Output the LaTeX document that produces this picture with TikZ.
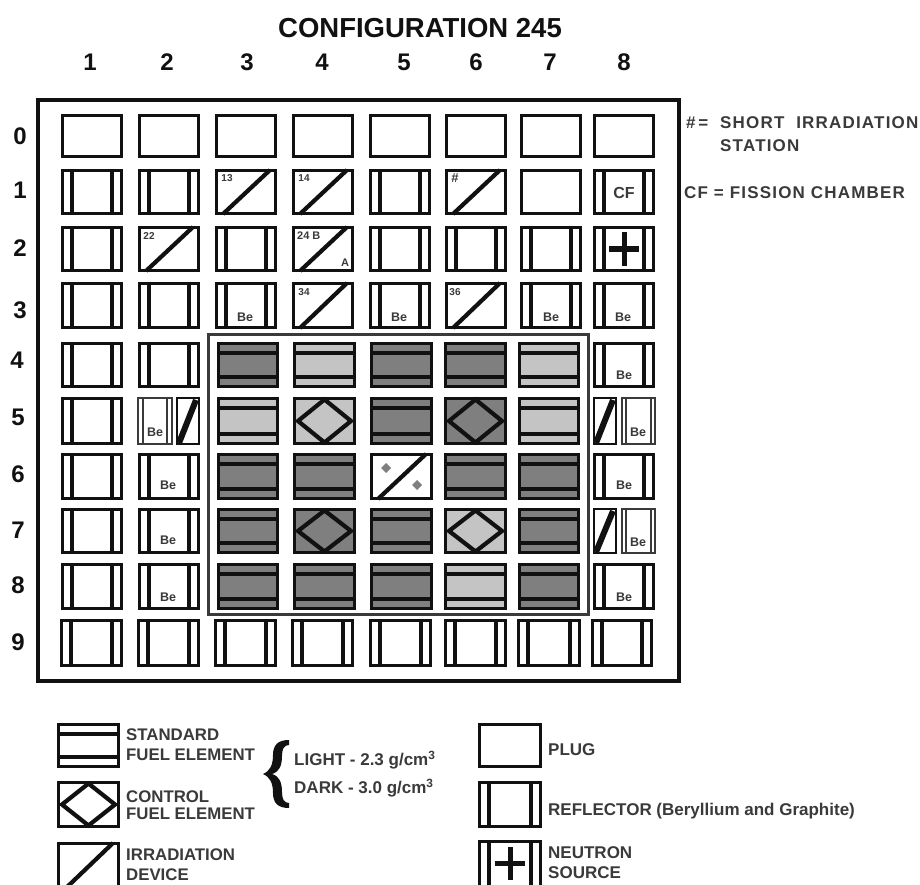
\documentclass[tikz,border=0pt]{standalone}
\usepackage{fontspec}
\setmainfont{Liberation Sans}
\newfontfamily\spaced[LetterSpace=7]{Liberation Sans}
\definecolor{fueldark}{HTML}{7F7F7F}
\definecolor{fuellight}{HTML}{C4C4C4}
\definecolor{ink}{HTML}{111111}
\definecolor{softink}{HTML}{3A3A3A}
\tikzset{
  cellbox/.style={draw=ink,line width=3.2pt,inner sep=0pt,outer sep=0pt,fill=white},
  rule/.style={draw=ink,line width=3.2pt},
  thinrule/.style={draw=softink,line width=1.6pt},
  slash/.style={draw=ink,line width=4.2pt},
  heavyslash/.style={draw=ink,line width=6pt},
  frame/.style={draw=ink,line width=3.4pt},
  innerframe/.style={draw=softink,line width=3pt},
  head/.style={font=\bfseries\fontsize{24}{24}\selectfont,text=ink,inner sep=0pt},
  spacednote/.style={font=\spaced\bfseries\fontsize{17}{17}\selectfont,text=softink,inner sep=0pt,anchor=west},
  tiny/.style={font=\bfseries\fontsize{10}{10}\selectfont,text=softink,inner sep=0pt},
  belabel/.style={font=\bfseries\fontsize{12.5}{12.5}\selectfont,text=softink,inner sep=0pt},
  legendtext/.style={font=\bfseries\fontsize{16.8}{16.8}\selectfont,text=softink,inner sep=0pt,anchor=west},
  legendwide/.style={font=\bfseries\fontsize{17}{17}\selectfont,text=softink,inner sep=0pt,anchor=west},
}
% #1 name, #2 left, #3 top, #4 right, #5 bottom (outer edges), #6 fill
\newcommand{\cbase}[6]{\node[cellbox,fill=#6,minimum width={#4-#2-3.2},minimum height={#5-#3-3.2}] (#1) at ({(#2+#4)/2},{(#3+#5)/2}) {};}
\newcommand{\cplug}[5]{\cbase{#1}{#2}{#3}{#4}{#5}{white}}
\newcommand{\crefl}[5]{\cbase{#1}{#2}{#3}{#4}{#5}{white}
  \draw[rule] ({#2+11},{#3+1}) -- ({#2+11},{#5-1});
  \draw[rule] ({#4-11},{#3+1}) -- ({#4-11},{#5-1});}
\newcommand{\cirr}[5]{\cbase{#1}{#2}{#3}{#4}{#5}{white}
  \draw[slash] ({#2+8},{#5-1}) -- ({#4-7},{#3+1});}
\newcommand{\cfuel}[6]{\cbase{#1}{#2}{#3}{#4}{#5}{#6}
  \draw[rule] ({#2+1},{#3+11}) -- ({#4-1},{#3+11});
  \draw[rule] ({#2+1},{#5-11}) -- ({#4-1},{#5-11});}
\newcommand{\cctrl}[6]{\cbase{#1}{#2}{#3}{#4}{#5}{#6}
  \draw[slash,line join=miter] ({#2+5},{(#3+#5)/2}) -- ({(#2+#4)/2},{#3+2.5}) -- ({#4-5},{(#3+#5)/2}) -- ({(#2+#4)/2},{#5-2.5}) -- cycle;}
% split reflector + irradiation halves
\newcommand{\crsplit}[7]{\node[draw=softink,line width=2.4pt,inner sep=0pt,minimum width={#4-#2-2},minimum height={#5-#3-2}] (#1) at ({(#2+#4)/2},{(#3+#5)/2}) {};
  \draw[thinrule] (#6,{#3+1}) -- (#6,{#5-1});
  \draw[thinrule] (#7,{#3+1}) -- (#7,{#5-1});}
\newcommand{\cisplit}[5]{\node[draw=ink,line width=2.6pt,inner sep=0pt,minimum width={#4-#2-2},minimum height={#5-#3-2}] (#1) at ({(#2+#4)/2},{(#3+#5)/2}) {};
  \draw[heavyslash] ({#2+3},{#5-2}) -- ({#4-4},{#3+3});}
\begin{document}
\begin{tikzpicture}[x=1pt,y=-1pt]
\useasboundingbox (0,0) rectangle (920,885);
\fill[white] (0,0) rectangle (920,885);
% title and indices
\node[font=\bfseries\fontsize{27.5}{28}\selectfont,text=ink,inner sep=0pt] (title) at (420,28) {CONFIGURATION 245};
\node[head] (h1) at (90,62) {1};
\node[head] (h2) at (167,62) {2};
\node[head] (h3) at (247,62) {3};
\node[head] (h4) at (322,62) {4};
\node[head] (h5) at (404,62) {5};
\node[head] (h6) at (476,62) {6};
\node[head] (h7) at (550,62) {7};
\node[head] (h8) at (624,62) {8};
\node[head] (v0) at (20,136) {0};
\node[head] (v1) at (20,190) {1};
\node[head] (v2) at (20,248) {2};
\node[head] (v3) at (20,310) {3};
\node[head] (v4) at (17,360) {4};
\node[head] (v5) at (18,417) {5};
\node[head] (v6) at (18,474) {6};
\node[head] (v7) at (18,530) {7};
\node[head] (v8) at (18,585) {8};
\node[head] (v9) at (18,642) {9};
% frames
\draw[frame] (38,100) rectangle (679,681);
\draw[innerframe] (208,334) rectangle (588,614);
% row 0
\cplug{a01}{61}{114}{123}{158}
\cplug{a02}{138}{114}{200}{158}
\cplug{a03}{215}{114}{277}{158}
\cplug{a04}{292}{114}{354}{158}
\cplug{a05}{369}{114}{431}{158}
\cplug{a06}{445}{114}{507}{158}
\cplug{a07}{520}{114}{582}{158}
\cplug{a08}{593}{114}{655}{158}
% row 1
\crefl{a11}{61}{169}{123}{215}
\crefl{a12}{138}{169}{200}{215}
\cirr{a13}{215}{169}{277}{215}
\cirr{a14}{292}{169}{354}{215}
\crefl{a15}{369}{169}{431}{215}
\cirr{a16}{445}{169}{507}{215}
\cplug{a17}{520}{169}{582}{215}
\crefl{a18}{593}{169}{655}{215}
% row 2
\crefl{a21}{61}{226}{123}{272}
\cirr{a22}{138}{226}{200}{272}
\crefl{a23}{215}{226}{277}{272}
\cirr{a24}{292}{226}{354}{272}
\crefl{a25}{369}{226}{431}{272}
\crefl{a26}{445}{226}{507}{272}
\crefl{a27}{520}{226}{582}{272}
\crefl{a28}{593}{226}{655}{272}
% row 3
\crefl{a31}{61}{282}{123}{329}
\crefl{a32}{138}{282}{200}{329}
\crefl{a33}{215}{282}{277}{329}
\cirr{a34}{292}{282}{354}{329}
\crefl{a35}{369}{282}{431}{329}
\cirr{a36}{445}{282}{507}{329}
\crefl{a37}{520}{282}{582}{329}
\crefl{a38}{593}{282}{655}{329}
% row 4
\crefl{a41}{61}{342}{123}{388}
\crefl{a42}{138}{342}{200}{388}
\cfuel{a43}{217}{342}{279}{388}{fueldark}
\cfuel{a44}{293}{342}{356}{388}{fuellight}
\cfuel{a45}{370}{342}{433}{388}{fueldark}
\cfuel{a46}{444}{342}{507}{388}{fueldark}
\cfuel{a47}{518}{342}{580}{388}{fuellight}
\crefl{a48}{593}{342}{655}{388}
% row 5
\crefl{a51}{61}{397}{123}{445}
\crsplit{a52}{137}{397}{173}{445}{143}{167}
\cisplit{a52i}{176}{397}{200}{445}
\cfuel{a53}{217}{397}{279}{445}{fuellight}
\cctrl{a54}{293}{397}{356}{445}{fuellight}
\cfuel{a55}{370}{397}{433}{445}{fueldark}
\cctrl{a56}{444}{397}{507}{445}{fueldark}
\cfuel{a57}{518}{397}{580}{445}{fuellight}
\cisplit{a58i}{593}{397}{617}{445}
\crsplit{a58}{621}{397}{656}{445}{626}{651}
% row 6
\crefl{a61}{61}{453}{123}{500}
\crefl{a62}{138}{453}{200}{500}
\cfuel{a63}{217}{453}{279}{500}{fueldark}
\cfuel{a64}{293}{453}{356}{500}{fueldark}
\cirr{a65}{370}{453}{433}{500}
\cfuel{a66}{444}{453}{507}{500}{fueldark}
\cfuel{a67}{518}{453}{580}{500}{fueldark}
\crefl{a68}{593}{453}{655}{500}
% row 7
\crefl{a71}{61}{508}{123}{554}
\crefl{a72}{138}{508}{200}{554}
\cfuel{a73}{217}{508}{279}{554}{fueldark}
\cctrl{a74}{293}{508}{356}{554}{fueldark}
\cfuel{a75}{370}{508}{433}{554}{fueldark}
\cctrl{a76}{444}{508}{507}{554}{fuellight}
\cfuel{a77}{518}{508}{580}{554}{fueldark}
\cisplit{a78i}{593}{508}{617}{554}
\crsplit{a78}{621}{508}{656}{554}{626}{651}
% row 8
\crefl{a81}{61}{563}{123}{610}
\crefl{a82}{138}{563}{200}{610}
\cfuel{a83}{217}{563}{279}{610}{fueldark}
\cfuel{a84}{293}{563}{356}{610}{fueldark}
\cfuel{a85}{370}{563}{433}{610}{fueldark}
\cfuel{a86}{444}{563}{507}{610}{fuellight}
\cfuel{a87}{518}{563}{580}{610}{fueldark}
\crefl{a88}{593}{563}{655}{610}
% row 9
\crefl{a91}{60}{619}{123}{667}
\crefl{a92}{137}{619}{200}{667}
\crefl{a93}{214}{619}{277}{667}
\crefl{a94}{291}{619}{354}{667}
\crefl{a95}{369}{619}{432}{667}
\crefl{a96}{444}{619}{507}{667}
\crefl{a97}{517}{619}{581}{667}
\crefl{a98}{591}{619}{653}{667}
% cell labels
\node[tiny] (t13) at (227,178) {13};
\node[tiny] (t14) at (304,178) {14};
\node[tiny,font=\bfseries\fontsize{13}{13}\selectfont] (t16) at (455,178) {\#};
\node[tiny] (t22) at (149,236) {22};
\node[tiny,anchor=west,font=\bfseries\fontsize{11}{11}\selectfont] (t24) at (297,236) {24 B};
\node[tiny,font=\bfseries\fontsize{11}{11}\selectfont] (t24a) at (345,263) {A};
\node[tiny] (t34) at (304,292) {34};
\node[tiny] (t36) at (455,292) {36};
\node[font=\bfseries\fontsize{16}{16}\selectfont,text=softink,inner sep=0pt] (tcf) at (624,193) {CF};
\node[belabel] (b33) at (245,317) {Be};
\node[belabel] (b35) at (399,317) {Be};
\node[belabel] (b37) at (551,317) {Be};
\node[belabel] (b38) at (623,317) {Be};
\node[belabel] (b48) at (624,375) {Be};
\node[belabel] (b52) at (155,432) {Be};
\node[belabel] (b58) at (638,432) {Be};
\node[belabel] (b62) at (168,485) {Be};
\node[belabel] (b68) at (624,485) {Be};
\node[belabel] (b72) at (168,540) {Be};
\node[belabel] (b78) at (638,542) {Be};
\node[belabel] (b82) at (168,597) {Be};
\node[belabel] (b88) at (624,597) {Be};
% neutron source cross
\draw[ink,line width=5pt] (609,249) -- (639,249);
\draw[ink,line width=5pt] (624,232) -- (624,266);
% small diamonds
\fill[fueldark] (386,463) -- (391,468) -- (386,473) -- (381,468) -- cycle;
\fill[fueldark] (417,480) -- (422,485) -- (417,490) -- (412,485) -- cycle;
% side notes
\node[spacednote] (n1) at (686,123) {\#\,=};
\node[spacednote] (n2) at (720,123) {SHORT\ \ IRRADIATION};
\node[spacednote] (n3) at (720,146) {STATION};
\node[spacednote] (n4) at (684,193) {CF = FISSION CHAMBER};
% legend
\cfuel{l1}{57}{723}{120}{768}{white}
\cctrl{l2}{57}{781}{120}{828}{white}
\begin{scope}
\clip (0,700) rectangle (920,885);
\cirr{l3}{57}{842}{120}{890}
\crefl{l6}{478}{840}{542}{890}
\draw[ink,line width=5pt] (495,863) -- (525,863);
\draw[ink,line width=5pt] (510,847) -- (510,880);
\end{scope}
\cplug{l4}{478}{723}{542}{768}
\crefl{l5}{478}{781}{542}{828}
\node[legendtext] (lt1) at (126,735) {STANDARD};
\node[legendtext] (lt2) at (126,755) {FUEL ELEMENT};
\node[legendtext] (lt3) at (126,797) {CONTROL};
\node[legendtext] (lt4) at (126,814) {FUEL ELEMENT};
\node[legendtext] (lt5) at (126,855) {IRRADIATION};
\node[legendtext] (lt6) at (126,875) {DEVICE};
\node[legendwide] (lt7) at (294,760) {LIGHT - 2.3 g/cm$^{\mathbf{3}}$};
\node[legendwide] (lt8) at (294,788) {DARK - 3.0 g/cm$^{\mathbf{3}}$};
\node[legendwide] (lt9) at (548,750) {PLUG};
\node[legendwide] (lt10) at (548,811) {REFLECTOR (Beryllium and Graphite)};
\node[legendwide] (lt11) at (548,853) {NEUTRON};
\node[legendwide] (lt12) at (548,873) {SOURCE};
% brace
\fill[ink] (289,740) .. controls (278,740) and (273,745) .. (273,755)
  .. controls (273,765) and (270,771) .. (263,774)
  .. controls (270,777) and (273,783) .. (273,793)
  .. controls (273,803) and (278,808) .. (289,808)
  -- (289,803) .. controls (284,803) and (282,799) .. (282,792)
  .. controls (282,782) and (279,776) .. (272,774)
  .. controls (279,772) and (282,766) .. (282,756)
  .. controls (282,749) and (284,745) .. (289,745) -- cycle;
\end{tikzpicture}
\end{document}
